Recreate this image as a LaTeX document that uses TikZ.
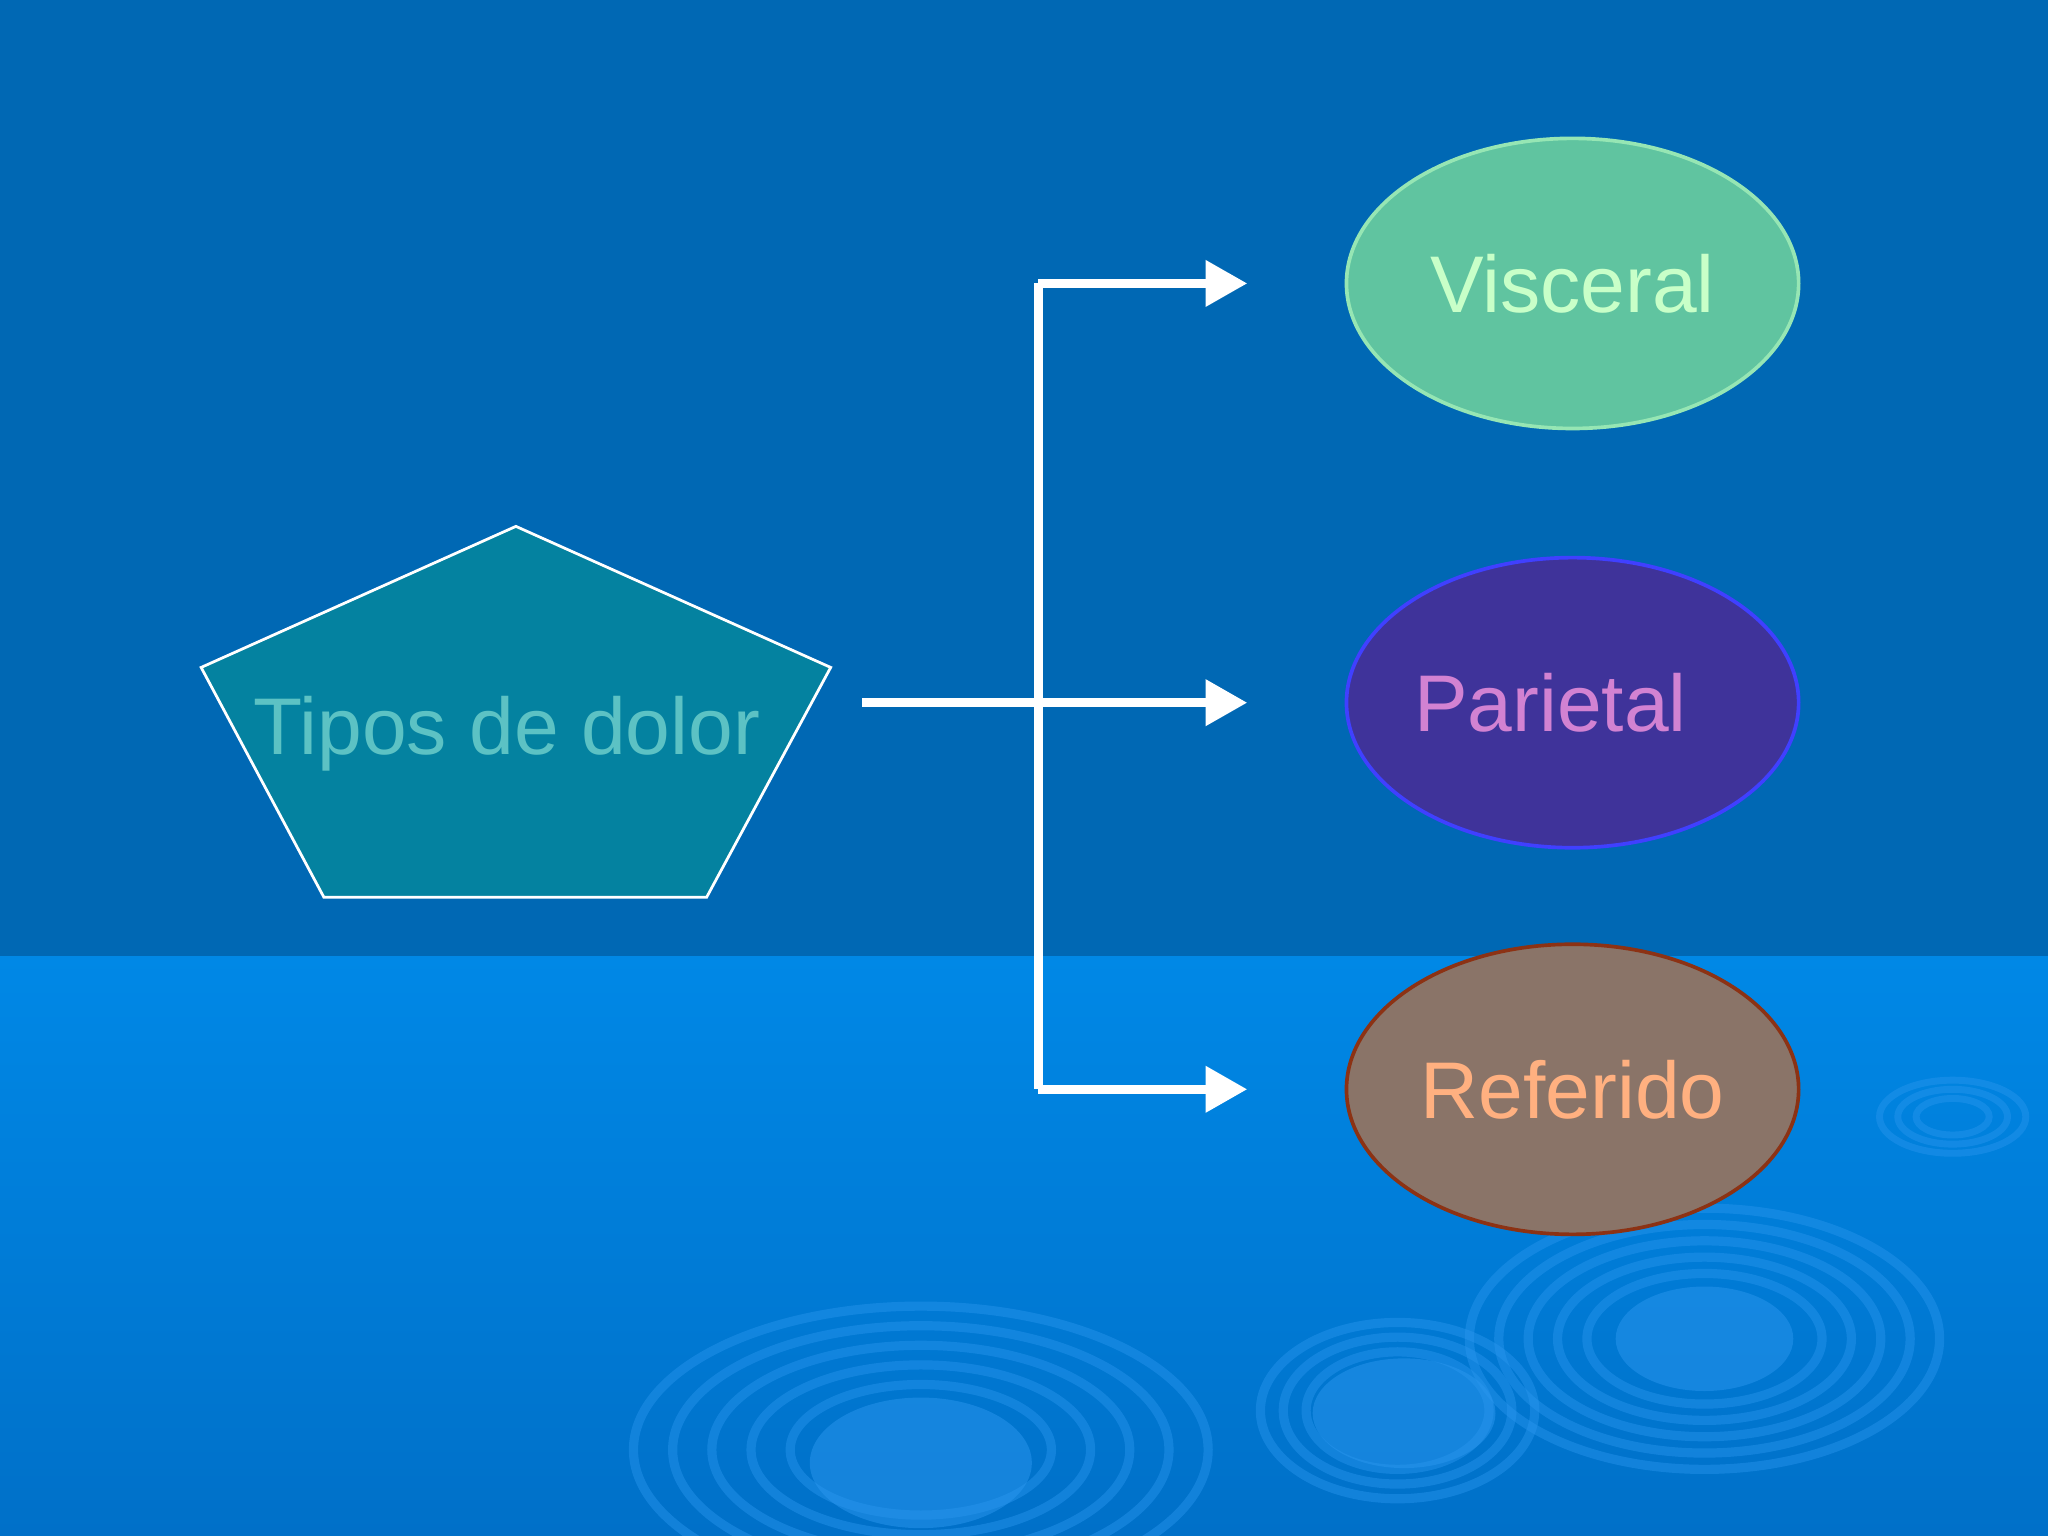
\documentclass[tikz,border=0pt]{standalone}
\usepackage{fontspec}
\setmainfont{Liberation Sans}
\usetikzlibrary{shapes.geometric,arrows.meta}
\definecolor{topbg}{HTML}{0068B4}
\definecolor{lowA}{HTML}{0088E6}
\definecolor{lowB}{HTML}{0070C8}
\definecolor{ripple}{HTML}{2A96EE}
\definecolor{pentf}{HTML}{0482A0}
\definecolor{pentt}{HTML}{5CC2C4}
\begin{document}
\begin{tikzpicture}[x=0.01cm,y=-0.01cm,
  oval/.style={ellipse,inner sep=0pt,minimum width=3.46cm,minimum height=2.22cm,line width=0.8pt,font=\fontsize{17.5}{22}\selectfont},
  conn/.style={white,line width=0.07cm},
  arr/.style={conn,-{Triangle[length=0.32cm,width=0.34cm]}},
  rip/.style={ripple,line width=2pt,opacity=0.45}]
\useasboundingbox (0,0) rectangle (1568,1176);
\fill[topbg] (0,0) rectangle (1568,732);
\shade[top color=lowA,bottom color=lowB] (0,732) rectangle (1568,1176);
% ripples
\foreach \r in {1,1.3,1.6,1.9,2.2}{\draw[rip] (705,1110) ellipse ({100*\r} and {50*\r});}
\fill[ripple,opacity=0.5] (705,1120) ellipse (85 and 50);
\foreach \r in {1,1.25,1.5}{\draw[rip] (1070,1080) ellipse ({70*\r} and {45*\r});}
\fill[ripple,opacity=0.5] (1075,1082) ellipse (70 and 42);
\foreach \r in {1,1.25,1.5,1.75,2.0}{\draw[rip] (1305,1025) ellipse ({90*\r} and {50*\r});}
\fill[ripple,opacity=0.5] (1305,1025) ellipse (68 and 40);
\foreach \r in {1,1.5,2}{\draw[rip,line width=1.5pt] (1495,855) ellipse ({28*\r} and {14*\r});}
% pentagon
\draw[white,line width=0.6pt,fill=pentf] (395,403) -- (636,511) -- (541,687) -- (248,687) -- (154,511) -- cycle;
\node[font=\fontsize{17.5}{22}\selectfont,text=pentt] (tipos) at (388,562) {Tipos de dolor};
\coordinate (start) at (660,538);
\coordinate (j1) at (795,217);
\coordinate (j2) at (795,834);
\coordinate (e1) at (955,217);
\coordinate (e2) at (955,538);
\coordinate (e3) at (955,834);
\node[oval,draw={rgb,255:red,150;green,230;blue,180},fill={rgb,255:red,96;green,196;blue,160},text={rgb,255:red,200;green,255;blue,200}] (visc) at (1204,217) {Visceral};
\node[oval,draw={rgb,255:red,64;green,64;blue,255},fill={rgb,255:red,63;green,51;blue,154}] (pari) at (1204,538) {};
\node[font=\fontsize{17.5}{22}\selectfont,text={rgb,255:red,210;green,130;blue,210}] (paritxt) at (1187,538) {Parietal};
\node[oval,draw={rgb,255:red,140;green,50;blue,20},fill={rgb,255:red,138;green,116;blue,104},text={rgb,255:red,255;green,176;blue,128}] (refe) at (1204,834) {Referido};
\draw[conn] (j1) -- (j2);
\draw[arr] (start) -- (e2);
\draw[arr] (j1) -- (e1);
\draw[arr] (j2) -- (e3);
\end{tikzpicture}
\end{document}
